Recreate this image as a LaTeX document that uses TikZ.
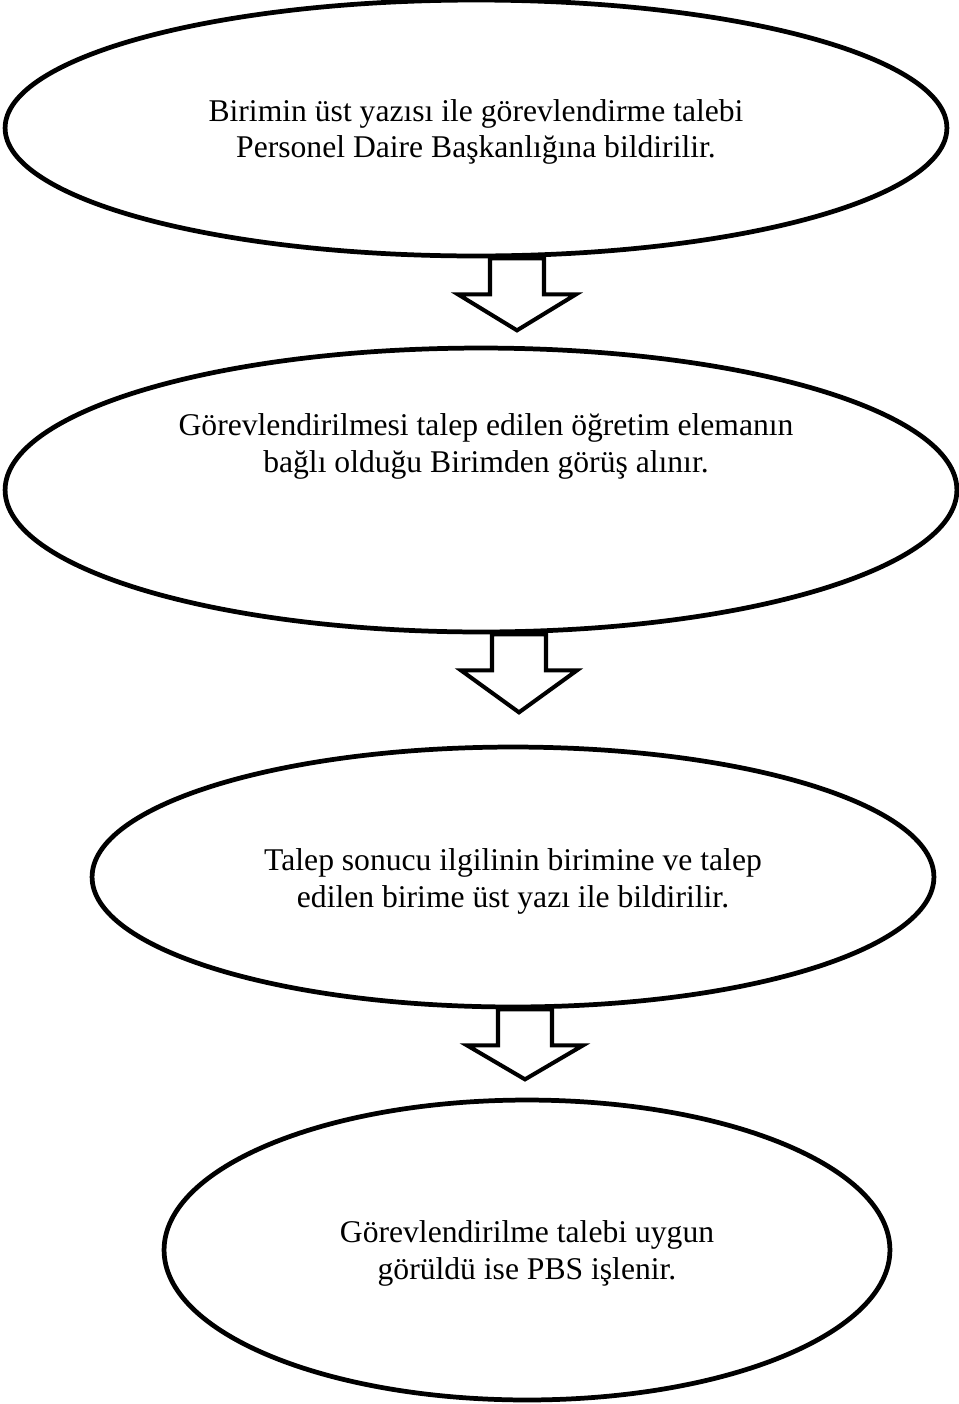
\documentclass[tikz,border=0pt]{standalone}
\usepackage{fontspec}
\setmainfont{Liberation Serif}
\usetikzlibrary{shapes.geometric,positioning}

\begin{document}
\begin{tikzpicture}[x=0.02cm, y=-0.02cm,
  stage/.style={draw, ellipse, line width=2.7pt, inner sep=0pt},
  stagetext/.style={align=center, font=\fontsize{18}{20.7}\selectfont},
  blockarrow/.style={draw, line width=2.3pt, fill=white, line join=miter}]
  \useasboundingbox (0,0) rectangle (958,1404);

  \node[stage, minimum width=18.84cm, minimum height=5.12cm] (talep) at (476,128) {};
  \node[stage, minimum width=19.04cm, minimum height=5.68cm] (gorus) at (481,490) {};
  \node[stage, minimum width=16.84cm, minimum height=5.2cm]  (sonuc) at (513,877) {};
  \node[stage, minimum width=14.52cm, minimum height=6.0cm]  (pbs)   at (527,1250) {};

  \node[stagetext] (talep-txt) at ([yshift=-0.08cm]talep.center)
    {Birimin üst yazısı ile görevlendirme talebi\\Personel Daire Başkanlığına bildirilir.};
  \node[stagetext] (gorus-txt) at ([xshift=0.1cm, yshift=0.87cm]gorus.center)
    {Görevlendirilmesi talep edilen öğretim elemanın\\bağlı olduğu Birimden görüş alınır.};
  \node[stagetext] (sonuc-txt) at ([yshift=-0.09cm]sonuc.center)
    {Talep sonucu ilgilinin birimine ve talep\\edilen birime üst yazı ile bildirilir.};
  \node[stagetext] (pbs-txt) at ([yshift=-0.07cm]pbs.center)
    {Görevlendirilme talebi uygun\\görüldü ise PBS işlenir.};

  % hollow arrows between the steps
  \draw[blockarrow] ([xshift=0.82cm]talep.south) ++(-27,0) -- ++(0,36) -- ++(-32,0)
    -- ++(59,36) -- ++(59,-36) -- ++(-32,0) -- ++(0,-36) -- cycle;
  \draw[blockarrow] ([xshift=0.76cm]gorus.south) ++(-27,0) -- ++(0,36) -- ++(-31,0)
    -- ++(58,42) -- ++(58,-42) -- ++(-31,0) -- ++(0,-36) -- cycle;
  \draw[blockarrow] ([xshift=0.24cm]sonuc.south) ++(-27,0) -- ++(0,36) -- ++(-31,0)
    -- ++(58,34) -- ++(58,-34) -- ++(-31,0) -- ++(0,-36) -- cycle;
\end{tikzpicture}
\end{document}
